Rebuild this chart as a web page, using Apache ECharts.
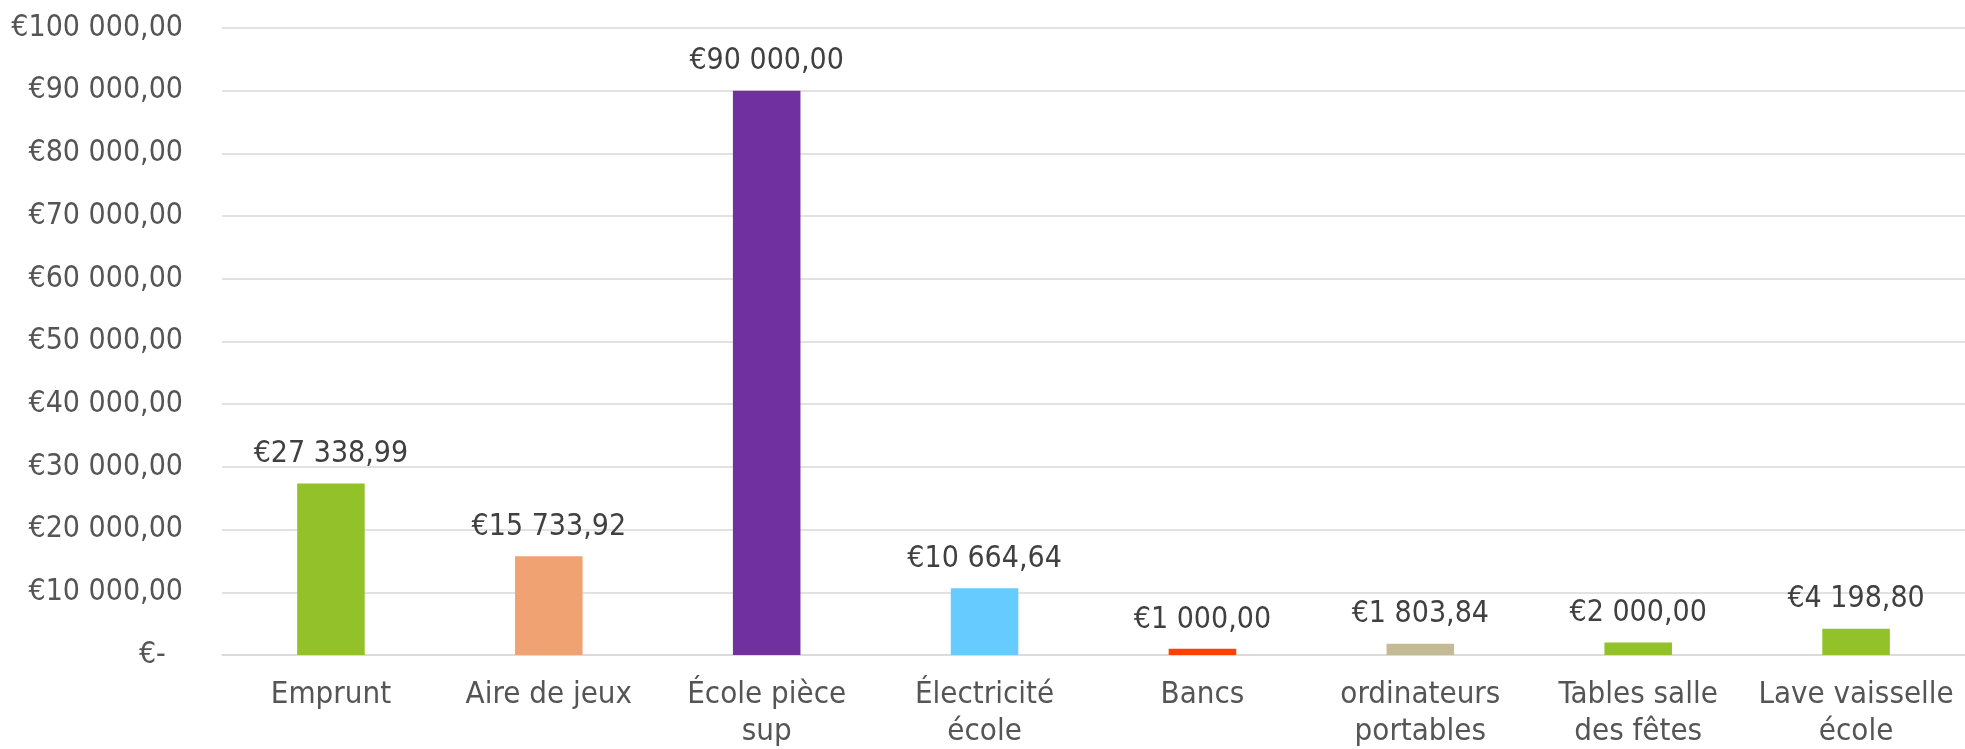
<!DOCTYPE html>
<html>
<head>
<meta charset="utf-8">
<script src="https://cdn.jsdelivr.net/npm/echarts@6/dist/echarts.min.js"></script>
<style>
  html, body { margin: 0; padding: 0; background: #fff; }
  #chart { width: 1965px; height: 749px; }
</style>
</head>
<body>
<div id="chart"></div>
<script>
// categories as shown on the axis (Excel wraps the long ones)
var categories = [
    'Emprunt',
    'Aire de jeux',
    'École pièce\nsup',
    'Électricité\nécole',
    'Bancs',
    'ordinateurs\nportables',
    'Tables salle\ndes fêtes',
    'Lave vaisselle\nécole'
];
var amounts = [27338.99, 15733.92, 90000, 10664.64, 1000, 1803.84, 2000, 4198.80];
var barColors = ['#92c12a', '#f0a273', '#7030a0', '#66ccff', '#ff4000', '#c4bb96', '#92c12a', '#92c12a'];
var yTicks = [0, 10000, 20000, 30000, 40000, 50000, 60000, 70000, 80000, 90000, 100000];

var FONT = "'DejaVu Sans Condensed', 'DejaVu Sans', sans-serif";

// €12 345,67 style
function euro(v) {
    if (v === 0) return '€-  ';
    var parts = v.toFixed(2).split('.');
    var intPart = parts[0].replace(/\B(?=(\d{3})+(?!\d))/g, ' ');
    return '€' + intPart + ',' + parts[1];
}

var chart = echarts.init(document.getElementById('chart'));

chart.setOption({
    animation: false,
    grid: {
        left: 222,
        right: 0,
        top: 28,
        bottom: 94,
        containLabel: false,
        outerBoundsMode: 'none'
    },
    xAxis: {
        type: 'category',
        data: categories,
        axisTick: { show: false },
        axisLine: { lineStyle: { color: '#d9d9d9', width: 1.5 } },
        axisLabel: {
            interval: 0,
            margin: 21,
            color: '#555555',
            fontFamily: FONT,
            fontSize: 31,
            lineHeight: 37
        }
    },
    yAxis: {
        type: 'value',
        min: yTicks[0],
        max: yTicks[yTicks.length - 1],
        interval: 10000,
        axisLine: { show: false },
        axisTick: { show: false },
        splitLine: { lineStyle: { color: '#d9d9d9', width: 1.5 } },
        axisLabel: {
            margin: 39,
            color: '#555555',
            fontFamily: FONT,
            fontSize: 30,
            formatter: function (v) { return euro(v); }
        }
    },
    series: [{
        type: 'bar',
        barWidth: '31%',
        data: amounts.map(function (v, i) {
            return { value: v, itemStyle: { color: barColors[i] } };
        }),
        label: {
            show: true,
            position: 'top',
            distance: 14,
            color: '#404040',
            fontFamily: FONT,
            fontSize: 30,
            lineHeight: 30,
            formatter: function (p) { return euro(p.value); }
        }
    }]
});
</script>
</body>
</html>
